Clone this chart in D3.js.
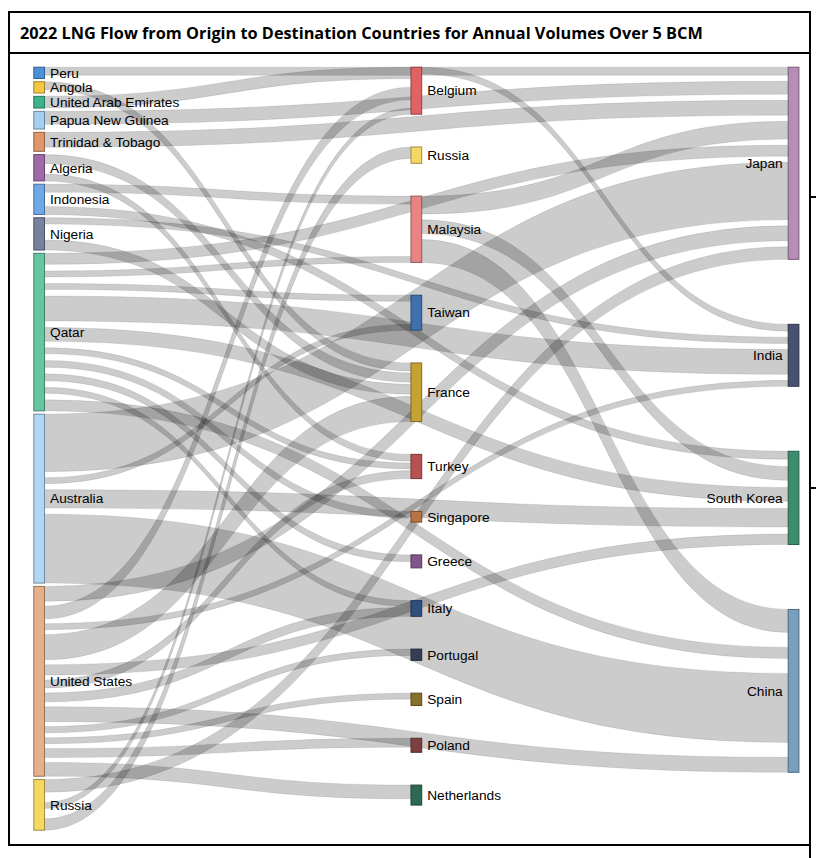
<!DOCTYPE html>
<html>
<head>
<meta charset="utf-8">
<script src="https://cdn.jsdelivr.net/npm/d3@7"></script>
<style>
  body { margin: 0; background: #fff; }
  svg { display: block; }
</style>
</head>
<body>
<svg id="chart"></svg>
<script>
const width = 816;
const height = 858;

// nodes, one list per column (values = total BCM handled by the country)
const origins = ["Peru", "Angola", "United Arab Emirates", "Papua New Guinea", "Trinidad & Tobago",
  "Algeria", "Indonesia", "Nigeria", "Qatar", "Australia", "United States", "Russia"];
const originTotals = [9.8, 9.8, 10.2, 15.4, 16.5, 22.9, 26.3, 28.1, 137.1, 147, 165.2, 44.1];

const hubs = ["Belgium", "Russia", "Malaysia", "Taiwan", "France", "Turkey", "Singapore",
  "Greece", "Italy", "Portugal", "Spain", "Poland", "Netherlands"];
const hubTotals = [40.9, 14.2, 57.7, 30.4, 51, 21.1, 9.3, 11.3, 13.6, 9.8, 10.7, 12.2, 17.4];

const destinations = ["Japan", "India", "South Korea", "China"];
const destinationTotals = [167.2, 53.9, 81.1, 141.7];

// flows over 5 BCM
const flowFrom = [
  "Peru", "Angola", "United Arab Emirates", "Papua New Guinea", "Trinidad & Tobago",
  "Algeria", "Algeria", "Indonesia", "Indonesia", "Nigeria", "Nigeria",
  "Malaysia", "Malaysia", "Malaysia", "Belgium",
  "Qatar", "Qatar", "Qatar", "Qatar", "Qatar", "Qatar", "Qatar", "Qatar", "Qatar", "Qatar",
  "Australia", "Australia", "Australia", "Australia",
  "United States", "United States", "United States", "United States", "United States", "United States",
  "United States", "United States", "United States", "United States", "United States", "United States",
  "Russia", "Russia", "Russia"
];
const flowTo = [
  "Japan", "France", "Belgium", "Japan", "Japan",
  "France", "Turkey", "Malaysia", "South Korea", "India", "France",
  "Japan", "South Korea", "China", "India",
  "Japan", "Malaysia", "Taiwan", "India", "South Korea", "Turkey", "Singapore", "Greece", "Italy", "China",
  "Japan", "Taiwan", "South Korea", "China",
  "Japan", "Belgium", "India", "France", "South Korea", "Turkey",
  "Italy", "China", "Portugal", "Spain", "Poland", "Netherlands",
  "Japan", "Belgium", "Russia"
];
const flowBcm = [
  7, 7, 10, 11.3, 13,
  8, 6, 7, 7, 5.5, 8.7,
  15.5, 12, 20, 6,
  9.6, 5.2, 5.2, 21.7, 12, 5.2, 6, 6, 5.2, 9.6,
  50, 5.2, 16, 60,
  13, 11, 5.2, 22, 9, 7,
  7.8, 13, 5.5, 5.2, 7.8, 12,
  11, 5.2, 10
];

const nodeColors = {
  "Peru": "#4a90d9", "Angola": "#f5c842", "United Arab Emirates": "#3db38a",
  "Papua New Guinea": "#a3d0f0", "Trinidad & Tobago": "#e0966a", "Algeria": "#a06aa8",
  "Indonesia": "#6fa8e6", "Nigeria": "#76809f", "Qatar": "#66c6a2", "Australia": "#b0d6f2",
  "United States": "#e8b08a", "Russia": "#f5d862",
  "Belgium": "#e06262", "Malaysia": "#e88484", "Taiwan": "#3f71ae", "France": "#c4a332",
  "Turkey": "#b85252", "Singapore": "#b87444", "Greece": "#82568c", "Italy": "#2f4f7c",
  "Portugal": "#363e56", "Spain": "#86702a", "Poland": "#7c4040", "Netherlands": "#2e6a52",
  "Japan": "#b68cb8", "India": "#475170", "South Korea": "#3a8e6e", "China": "#78a0be"
};

const svg = d3.select("#chart")
  .attr("width", width)
  .attr("height", height);

// frame + title
svg.append("rect")
  .attr("x", 9).attr("y", 12)
  .attr("width", 801).attr("height", 833)
  .attr("fill", "none").attr("stroke", "#000").attr("stroke-width", 2);
svg.append("line")
  .attr("x1", 9).attr("x2", 810).attr("y1", 53).attr("y2", 53)
  .attr("stroke", "#000").attr("stroke-width", 2);
svg.append("line")
  .attr("x1", 810).attr("x2", 810).attr("y1", 12).attr("y2", height)
  .attr("stroke", "#000").attr("stroke-width", 2);
[197, 488].forEach(y => {
  svg.append("line")
    .attr("x1", 810).attr("x2", width).attr("y1", y).attr("y2", y)
    .attr("stroke", "#000").attr("stroke-width", 2);
});
svg.append("text")
  .attr("x", 20).attr("y", 39)
  .attr("font-family", "'Open Sans', sans-serif")
  .attr("font-weight", 700)
  .attr("font-size", 16.3)
  .attr("fill", "#000")
  .text("2022 LNG Flow from Origin to Destination Countries for Annual Volumes Over 5 BCM");

// ---- layout ----
const nodeWidth = 10.7;
const topY = 67.2;
const columnPadding = [3.3, 32.8, 65];

const xCol = d3.scaleLinear().domain([0, 2]).range([33.8, 788.2]);
const vScale = d3.scaleLinear()
  .domain([0, d3.sum(originTotals)])
  .range([0, 764 - 1 - (origins.length - 1) * columnPadding[0]]);

const columns = [
  origins.map((name, i) => ({ name, value: originTotals[i] })),
  hubs.map((name, i) => ({ name, value: hubTotals[i] })),
  destinations.map((name, i) => ({ name, value: destinationTotals[i] }))
];

columns.forEach((col, c) => {
  let y = topY;
  col.forEach(n => {
    n.col = c;
    n.x0 = xCol(c);
    n.x1 = n.x0 + nodeWidth;
    n.y0 = y;
    n.y1 = y + vScale(n.value);
    n.out = [];
    n.in = [];
    y = n.y1 + columnPadding[c];
  });
});

const findSource = name => columns[0].find(n => n.name === name) || columns[1].find(n => n.name === name);
const findTarget = name => columns[1].find(n => n.name === name) || columns[2].find(n => n.name === name);

const links = flowFrom.map((f, i) => {
  const link = { source: findSource(f), target: findTarget(flowTo[i]), value: flowBcm[i], index: i };
  link.width = vScale(link.value);
  link.source.out.push(link);
  link.target.in.push(link);
  return link;
});

// links share out the node height; the room left by flows under 5 BCM
// sits between them
const allNodes = columns.flat();
allNodes.forEach(n => {
  n.out.sort((a, b) => (a.target.y0 - b.target.y0) || (a.index - b.index));
  n.in.sort((a, b) => (a.source.y0 - b.source.y0) || (a.index - b.index));
  const place = (list, key) => {
    if (!list.length) return;
    const used = d3.sum(list, l => l.width);
    const gap = list.length > 1 ? Math.max(0, (n.y1 - n.y0 - used) / (list.length - 1)) : 0;
    let y = n.y0;
    list.forEach(l => {
      l[key] = y;
      y += l.width + gap;
    });
  };
  place(n.out, "ys");
  place(n.in, "yt");
});

const linkPath = l => {
  const x0 = l.source.x1, x1 = l.target.x0, xm = (x0 + x1) / 2;
  const p = d3.path();
  p.moveTo(x0, l.ys);
  p.bezierCurveTo(xm, l.ys, xm, l.yt, x1, l.yt);
  p.lineTo(x1, l.yt + l.width);
  p.bezierCurveTo(xm, l.yt + l.width, xm, l.ys + l.width, x0, l.ys + l.width);
  p.closePath();
  return p.toString();
};

svg.append("g")
  .selectAll("path")
  .data(links)
  .join("path")
  .attr("d", linkPath)
  .attr("fill", "rgba(0,0,0,0.2)")
  .attr("stroke", "rgba(0,0,0,0.12)")
  .attr("stroke-width", 0.8);

svg.append("g")
  .selectAll("rect")
  .data(allNodes)
  .join("rect")
  .attr("x", d => d.x0)
  .attr("y", d => d.y0)
  .attr("width", nodeWidth)
  .attr("height", d => d.y1 - d.y0)
  .attr("fill", d => nodeColors[d.name])
  .attr("stroke", d => d3.color(nodeColors[d.name]).darker(1.2))
  .attr("stroke-width", 1);

svg.append("g")
  .selectAll("text")
  .data(allNodes)
  .join("text")
  .attr("x", d => d.col === 2 ? d.x0 - 5.5 : d.x1 + 5.5)
  .attr("y", d => (d.y0 + d.y1) / 2)
  .attr("dy", "0.35em")
  .attr("text-anchor", d => d.col === 2 ? "end" : "start")
  .attr("font-family", "'Liberation Sans', Arial, sans-serif")
  .attr("font-size", 13.7)
  .attr("fill", "#000")
  .text(d => d.name);
</script>
</body>
</html>
